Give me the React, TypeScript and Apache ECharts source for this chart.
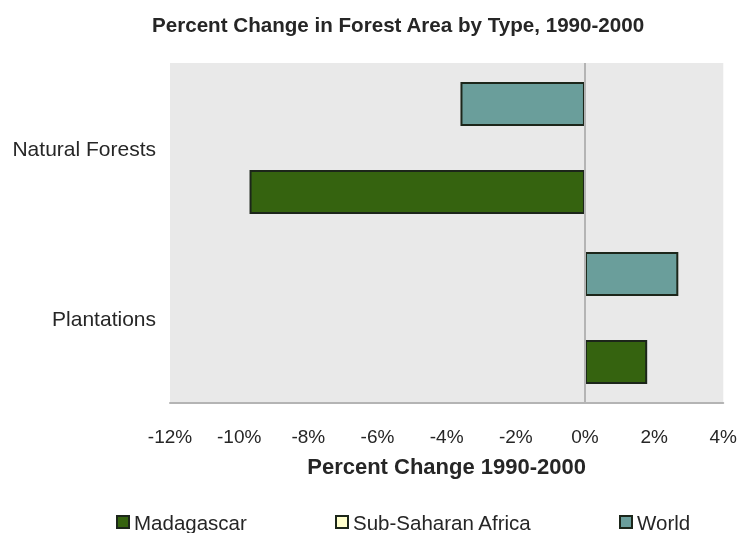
import React, { useEffect, useRef } from "react";
import * as echarts from "echarts";

const categories = ["Natural Forests", "Plantations"];
const madagascar = [-9.7, 1.8];
const subSaharanAfrica: (number | null)[] = [null, null];
const world = [-3.6, 2.7];
const xTicks = { min: -12, max: 4, interval: 2 };

const FONT = "'Liberation Sans', Arial, Helvetica, sans-serif";
const TEXT = "#262626";

export default function App() {
  const ref = useRef<HTMLDivElement>(null);
  useEffect(() => {
    document.body.style.margin = "0";
    const chart = echarts.init(ref.current!, null, { renderer: "svg" });
    const border = { borderColor: "#1c261a", borderWidth: 2 };
    const legendBase = {
      top: 506,
      itemWidth: 12,
      itemHeight: 12,
      icon: "rect",
      textStyle: { fontFamily: FONT, fontSize: 20.5, color: TEXT, lineHeight: 22 },
    };
    chart.setOption({
      animation: false,
      textStyle: { fontFamily: FONT, color: TEXT },
      title: {
        text: "Percent Change in Forest Area by Type, 1990-2000",
        left: 147,
        top: 9,
        textStyle: { fontFamily: FONT, fontSize: 20.6, fontWeight: "bold", color: TEXT },
      },
      legend: [
        { ...legendBase, data: ["Madagascar"], left: 111 },
        { ...legendBase, data: ["Sub-Saharan Africa"], left: 330 },
        { ...legendBase, data: ["World"], left: 614 },
      ],
      grid: {
        left: 170,
        right: 13,
        top: 63,
        bottom: 130,
        show: true,
        backgroundColor: "#e9e9e9",
        borderWidth: 0,
      },
      xAxis: {
        type: "value",
        min: xTicks.min,
        max: xTicks.max,
        interval: xTicks.interval,
        axisLine: { show: true, onZero: false, lineStyle: { color: "#b4b4b4", width: 2 } },
        axisTick: { show: false },
        splitLine: { show: false },
        axisLabel: {
          formatter: (v: number) => `${v}%`,
          fontFamily: FONT,
          fontSize: 19,
          color: TEXT,
          margin: 24,
        },
        name: "Percent Change 1990-2000",
        nameLocation: "middle",
        nameGap: 52,
        nameTextStyle: { fontFamily: FONT, fontSize: 22, fontWeight: "bold", color: TEXT },
      },
      yAxis: {
        type: "category",
        data: categories,
        inverse: true,
        axisLine: { show: false },
        axisTick: { show: false },
        splitLine: { show: false },
        axisLabel: { fontFamily: FONT, fontSize: 21, color: TEXT, margin: 14 },
      },
      series: [
        {
          name: "World",
          type: "bar",
          data: world,
          barWidth: 44,
          barGap: "0%",
          itemStyle: { color: "#6a9e9b", ...border },
          markLine: {
            silent: true,
            symbol: "none",
            label: { show: false },
            lineStyle: { color: "#b4b4b4", width: 2, type: "solid" },
            data: [{ xAxis: 0 }],
          },
        },
        {
          name: "Sub-Saharan Africa",
          type: "bar",
          data: subSaharanAfrica,
          barWidth: 44,
          barGap: "0%",
          itemStyle: { color: "#ffffcc", ...border },
        },
        {
          name: "Madagascar",
          type: "bar",
          data: madagascar,
          barWidth: 44,
          barGap: "0%",
          itemStyle: { color: "#35630f", ...border },
        },
      ],
    });
    return () => chart.dispose();
  }, []);
  return (
    <div
      ref={ref}
      style={{ position: "fixed", left: 0, top: 0, width: 740, height: 533 }}
    />
  );
}
